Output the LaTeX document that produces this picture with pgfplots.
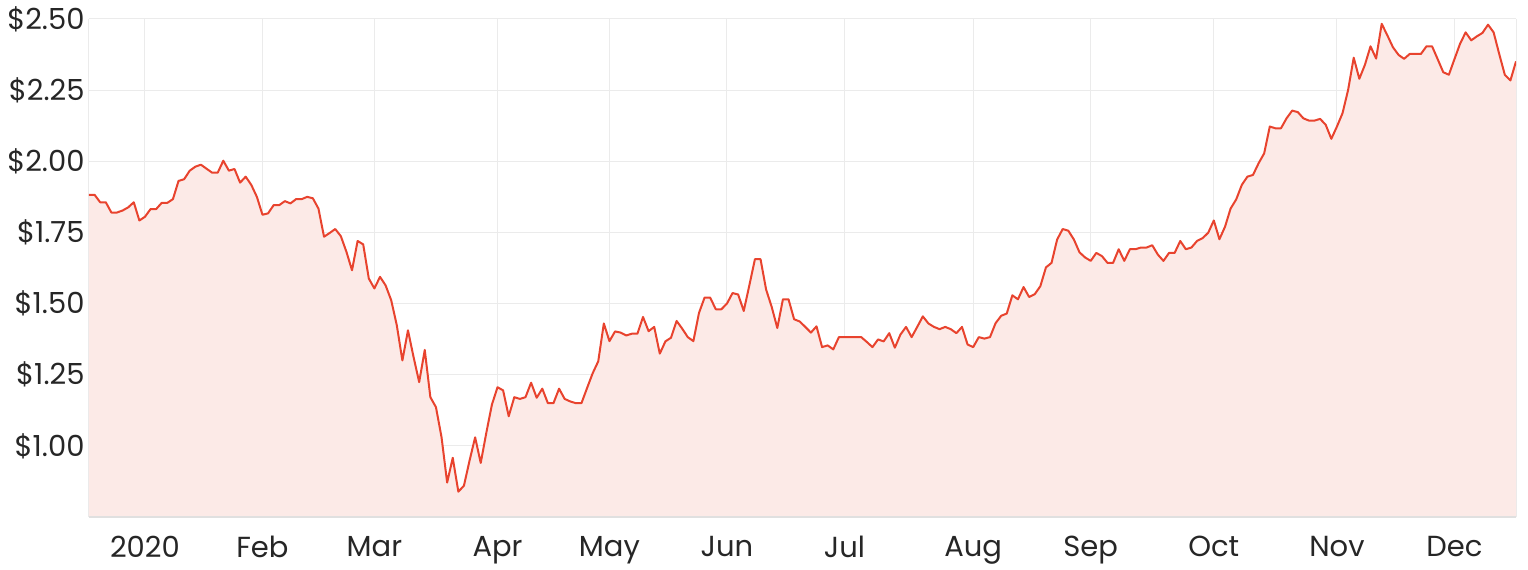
\documentclass[border=0pt]{standalone}
\usepackage{pgfplots}
\pgfplotsset{compat=1.18}
\usepackage{pgfplotstable}
\usepackage{fontspec}
\setmainfont{Poppins}
\definecolor{linec}{HTML}{E8432E}
\definecolor{fillc}{HTML}{FCEAE7}
\definecolor{gridc}{HTML}{EBEBEB}
\definecolor{txtc}{HTML}{262626}
\pgfplotstableread{
i v
0 1.882
1 1.882
2 1.856
3 1.856
4 1.820
5 1.820
6 1.827
7 1.838
8 1.856
9 1.792
10 1.805
11 1.832
12 1.832
13 1.854
14 1.854
15 1.867
16 1.931
17 1.937
18 1.967
19 1.981
20 1.988
21 1.974
22 1.960
23 1.960
24 2.002
25 1.967
26 1.973
27 1.925
28 1.946
29 1.917
30 1.875
31 1.812
32 1.817
33 1.846
34 1.846
35 1.860
36 1.852
37 1.867
38 1.867
39 1.875
40 1.870
41 1.834
42 1.735
43 1.748
44 1.762
45 1.737
46 1.682
47 1.617
48 1.720
49 1.708
50 1.588
51 1.553
52 1.594
53 1.564
54 1.512
55 1.424
56 1.300
57 1.406
58 1.312
59 1.224
60 1.337
61 1.171
62 1.136
63 1.030
64 0.871
65 0.958
66 0.839
67 0.860
68 0.948
69 1.030
70 0.940
71 1.046
72 1.145
73 1.206
74 1.195
75 1.104
76 1.171
77 1.165
78 1.171
79 1.222
80 1.169
81 1.201
82 1.150
83 1.150
84 1.201
85 1.165
86 1.156
87 1.150
88 1.150
89 1.203
90 1.255
91 1.297
92 1.430
93 1.368
94 1.402
95 1.398
96 1.388
97 1.394
98 1.394
99 1.453
100 1.403
101 1.418
102 1.324
103 1.367
104 1.380
105 1.439
106 1.412
107 1.382
108 1.368
109 1.467
110 1.521
111 1.521
112 1.480
113 1.480
114 1.500
115 1.537
116 1.532
117 1.474
118 1.564
119 1.656
120 1.656
121 1.549
122 1.488
123 1.414
124 1.515
125 1.515
126 1.445
127 1.437
128 1.418
129 1.398
130 1.420
131 1.347
132 1.353
133 1.339
134 1.382
135 1.382
136 1.382
137 1.382
138 1.382
139 1.365
140 1.347
141 1.374
142 1.367
143 1.396
144 1.345
145 1.391
146 1.418
147 1.382
148 1.418
149 1.455
150 1.430
151 1.418
152 1.410
153 1.418
154 1.410
155 1.396
156 1.418
157 1.356
158 1.347
159 1.382
160 1.377
161 1.382
162 1.431
163 1.457
164 1.465
165 1.529
166 1.515
167 1.558
168 1.523
169 1.533
170 1.561
171 1.627
172 1.643
173 1.725
174 1.762
175 1.756
176 1.725
177 1.680
178 1.662
179 1.650
180 1.678
181 1.667
182 1.643
183 1.643
184 1.691
185 1.650
186 1.691
187 1.691
188 1.697
189 1.697
190 1.705
191 1.672
192 1.650
193 1.678
194 1.678
195 1.720
196 1.691
197 1.697
198 1.720
199 1.730
200 1.749
201 1.792
202 1.726
203 1.770
204 1.834
205 1.866
206 1.917
207 1.946
208 1.952
209 1.993
210 2.028
211 2.122
212 2.116
213 2.116
214 2.151
215 2.178
216 2.173
217 2.151
218 2.143
219 2.143
220 2.149
221 2.128
222 2.079
223 2.122
224 2.169
225 2.251
226 2.364
227 2.290
228 2.339
229 2.404
230 2.361
231 2.483
232 2.443
233 2.401
234 2.374
235 2.360
236 2.377
237 2.377
238 2.377
239 2.404
240 2.404
241 2.359
242 2.313
243 2.304
244 2.359
245 2.413
246 2.453
247 2.425
248 2.439
249 2.451
250 2.480
251 2.453
252 2.377
253 2.304
254 2.284
255 2.351
}\pricetable
\begin{document}
\begin{tikzpicture}
\useasboundingbox (-89bp,-53bp) rectangle (1439bp,517bp);
\begin{axis}[
  scale only axis,
  width=1427bp, height=498bp,
  xmin=0, xmax=255,
  ymin=0.75, ymax=2.5,
  xtick={10,31,51,73,93,114,135,158,179,201,223,244},
  xticklabels={2020,Feb,Mar,Apr,May,Jun,Jul,Aug,Sep,Oct,Nov,Dec},
  ytick={1,1.25,1.5,1.75,2,2.25,2.5},
  yticklabels={\$1.00,\$1.25,\$1.50,\$1.75,\$2.00,\$2.25,\$2.50},
  major tick length=0pt,
  grid=major,
  major grid style={gridc, line width=1bp},
  axis line style={gridc, line width=1bp},
  axis x line*=bottom,
  every outer x axis line/.append style={draw=none},
  ticklabel style={font=\fontsize{29bp}{33bp}\selectfont, text=txtc},
  xticklabel style={yshift=-16bp},
  yticklabel style={xshift=-1bp},
  clip=true,
]
\addplot[fill=fillc, draw=none] table[x=i, y=v] {\pricetable} \closedcycle;
\addplot[linec, line width=2bp, line join=round] table[x=i, y=v] {\pricetable};
\draw[gridc, line width=1bp] (axis cs:0,0.75) -- (axis cs:0,2.5);
\draw[gridc, line width=1bp] (axis cs:255,0.75) -- (axis cs:255,2.5);
\draw[gridc, line width=1bp] (axis cs:0,2.5) -- (axis cs:255,2.5);
\draw[black!12, line width=1.5bp] (axis cs:0,0.75) -- (axis cs:255,0.75);
\end{axis}
\end{tikzpicture}
\end{document}
